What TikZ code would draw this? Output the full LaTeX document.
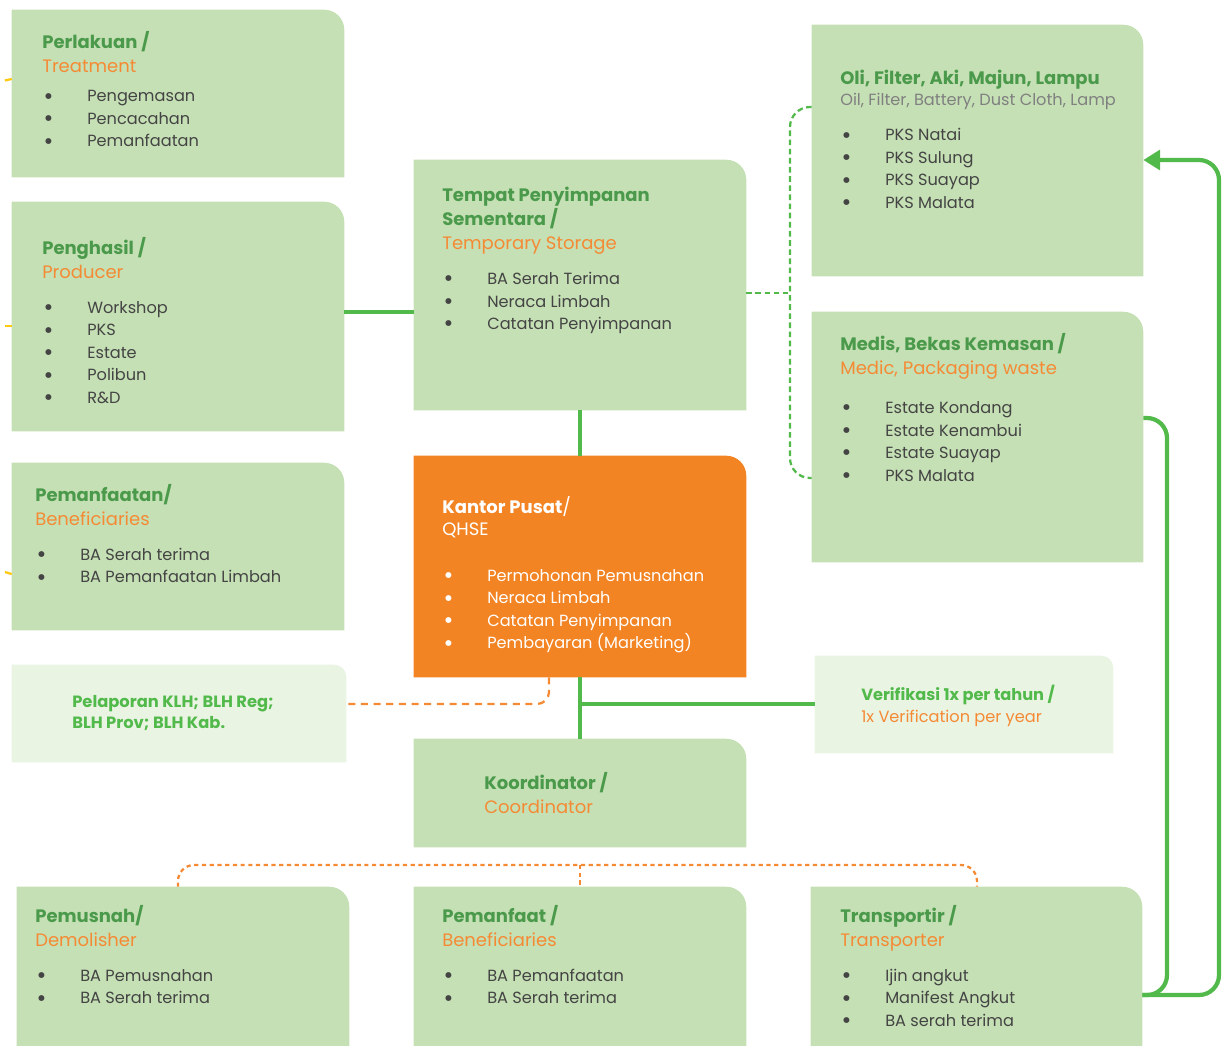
\documentclass[tikz,border=0pt]{standalone}
\usepackage{fontspec}
\setmainfont{Poppins}
\usepackage{xcolor}
\usetikzlibrary{positioning, fit, arrows.meta}

\definecolor{cardgreen}{HTML}{C5E0B4}
\definecolor{cardlight}{HTML}{E9F4E3}
\definecolor{hqorange}{HTML}{F28424}
\definecolor{titlegreen}{HTML}{4B9A4C}
\definecolor{linkgreen}{HTML}{52B94B}
\definecolor{textorange}{HTML}{F58A35}
\definecolor{bodygray}{HTML}{444444}
\definecolor{subgray}{HTML}{808080}
\definecolor{feedyellow}{HTML}{FFC910}

\tikzset{
    card/.style={inner sep=0pt, draw=none}, % empty frame, filled afterwards
    txt/.style={anchor=north west, inner sep=0pt, align=left, text=bodygray,
        font=\fontsize{11.5}{16}\selectfont}, % text block inside a card
    link/.style={draw=linkgreen, line width=3.5pt}, % solid green line
    loop/.style={draw=linkgreen, line width=3pt, rounded corners=0.5cm},
    feedgreen/.style={draw=linkgreen, line width=1.6pt, dash pattern=on 4pt off 2.5pt},
    feedorange/.style={draw=textorange, line width=1.6pt, dash pattern=on 5pt off 4pt},
    feeddot/.style={draw=textorange, line width=1.6pt, dash pattern=on 3pt off 2.5pt},
    feedyellow/.style={draw=feedyellow, line width=1.6pt, dash pattern=on 5pt off 4pt},
}

% heading, subtitle and bullet of a card
\newcommand\hfont{\fontsize{12.8}{16}\selectfont}
\newcommand\hd[1]{{\hfont\bfseries\color{titlegreen}#1}}
\newcommand\sub[1]{{\hfont\color{textorange}#1}}
\newcommand\pt{\makebox[1.125cm][l]{\hspace{1pt}\raisebox{-1.6pt}{\fontsize{17}{16}\selectfont\textbullet}}}

\begin{document}
\begin{tikzpicture}[x=0.025cm, y=-0.025cm]
\useasboundingbox (0,0) rectangle (1224,1046);

% card frames
\node[card, fit={(12,10) (344,177)}] (perlakuan) {};
\node[card, fit={(12,202) (344,431)}] (penghasil) {};
\node[card, fit={(12,463) (344,630)}] (pemanfaatan) {};
\node[card, fit={(12,665) (346,762)}] (pelaporan) {};
\node[card, fit={(414,160) (746,410)}] (tps) {};
\node[card, fit={(414,456) (746,677)}] (kantor) {};
\node[card, fit={(414,739) (746,847)}] (koordinator) {};
\node[card, fit={(812,25) (1143,276)}] (oli) {};
\node[card, fit={(812,312) (1143,562)}] (medis) {};
\node[card, fit={(815,656) (1113,753)}] (verifikasi) {};
\node[card, fit={(17,887) (349,1046)}] (pemusnah) {};
\node[card, fit={(414,887) (746,1046)}] (pemanfaat) {};
\node[card, fit={(811,887) (1142,1046)}] (transportir) {};

% fill: only the top right corner is round
\foreach \n/\c/\r in {perlakuan/cardgreen/0.5cm, penghasil/cardgreen/0.5cm,
    pemanfaatan/cardgreen/0.5cm, pelaporan/cardlight/0.3cm, tps/cardgreen/0.5cm,
    kantor/hqorange/0.5cm, koordinator/cardgreen/0.5cm, oli/cardgreen/0.5cm,
    medis/cardgreen/0.5cm, verifikasi/cardlight/0.3cm, pemusnah/cardgreen/0.5cm,
    pemanfaat/cardgreen/0.5cm, transportir/cardgreen/0.5cm}
  \fill[\c] (\n.south west) -- (\n.north west) -- ([xshift=-\r]\n.north east)
    arc[start angle=90, end angle=0, radius=\r] -- (\n.south east) -- cycle;

% card texts
\node[txt] (perlakuan-t) at (42,31) {\hd{Perlakuan /}\\[1pt]\sub{Treatment}\\[5pt]
    \pt Pengemasan\\ \pt Pencacahan\\ \pt Pemanfaatan};
\node[txt] (penghasil-t) at (42,237) {\hd{Penghasil /}\\[1pt]\sub{Producer}\\[9pt]
    \pt Workshop\\ \pt PKS\\ \pt Estate\\ \pt Polibun\\ \pt R\&D};
\node[txt] (pemanfaatan-t) at (35,484) {\hd{Pemanfaatan/}\\[1pt]\sub{Beneficiaries}\\[9pt]
    \pt BA Serah terima\\ \pt BA Pemanfaatan Limbah};
\node[txt, text=linkgreen, font=\fontsize{11.6}{15}\bfseries] (pelaporan-t) at (72,695)
    {Pelaporan KLH; BLH Reg;\\ BLH Prov; BLH Kab.};
\node[txt] (tps-t) at (442,187) {\hd{Tempat Penyimpanan}\\[1pt]\hd{Sementara /}\\[1pt]
    \sub{Temporary Storage}\\[9pt]
    \pt BA Serah Terima\\ \pt Neraca Limbah\\ \pt Catatan Penyimpanan};
\node[txt, text=white] (kantor-t) at (442,496) {{\hfont\textbf{Kantor Pusat}/}\\[0pt]
    {\hfont QHSE}\\[16.5pt]
    \pt Permohonan Pemusnahan\\ \pt Neraca Limbah\\ \pt Catatan Penyimpanan\\
    \pt Pembayaran (Marketing)};
\node[txt] (koordinator-t) at (484,772) {\hd{Koordinator /}\\[1pt]\sub{Coordinator}};
\node[txt] (oli-t) at (840,70) {\hd{Oli, Filter, Aki, Majun, Lampu}\\[-1pt]
    {\color{subgray}Oil, Filter, Battery, Dust Cloth, Lamp}\\[9pt]
    \pt PKS Natai\\ \pt PKS Sulung\\ \pt PKS Suayap\\ \pt PKS Malata};
\node[txt] (medis-t) at (840,333) {\hd{Medis, Bekas Kemasan /}\\[1pt]
    \sub{Medic, Packaging waste}\\[12pt]
    \pt Estate Kondang\\ \pt Estate Kenambui\\ \pt Estate Suayap\\ \pt PKS Malata};
\node[txt, font=\fontsize{11.5}{15.5}\selectfont] (verifikasi-t) at (861,685)
    {{\bfseries\color{linkgreen}Verifikasi 1x per tahun /}\\ {\color{textorange}1x Verification per year}};
\node[txt] (pemusnah-t) at (35,905) {\hd{Pemusnah/}\\[1pt]\sub{Demolisher}\\[9pt]
    \pt BA Pemusnahan\\ \pt BA Serah terima};
\node[txt] (pemanfaat-t) at (442,905) {\hd{Pemanfaat /}\\[1pt]\sub{Beneficiaries}\\[9pt]
    \pt BA Pemanfaatan\\ \pt BA Serah terima};
\node[txt] (transportir-t) at (840,905) {\hd{Transportir /}\\[1pt]\sub{Transporter}\\[9pt]
    \pt Ijin angkut\\ \pt Manifest Angkut\\ \pt BA serah terima};

% junctions
\coordinate (hub) at (kantor.south |- 0,704);
\coordinate (split) at (790,293);
\coordinate (fork) at (pemanfaat.north |- 0,865);

% solid green links
\draw[link] (penghasil.east |- 0,312) -- (tps.west |- 0,312);
\draw[link] (tps.south) -- (kantor.north);
\draw[link] (kantor.south) -- (koordinator.north);
\draw[link] (hub) -- (verifikasi.west |- hub);

% dashed feeds
\draw[feedorange, rounded corners=0.3cm] (kantor.south -| 549,0) -- (549,704)
    -- (pelaporan.east |- 0,704);
\draw[feedgreen] (tps.east |- split) -- (split);
\draw[feedgreen, rounded corners=0.5cm] (oli.west |- 0,107) -- (split |- 0,107)
    -- (split |- 0,478) -- (medis.west |- 0,478);
\draw[feeddot, rounded corners=0.4cm] (pemusnah.north -| 178,0) -- (178,865)
    -- (977,865) -- (transportir.north -| 977,0);
\draw[feeddot] (fork) -- (pemanfaat.north);
\draw[feedyellow] (perlakuan.west |- 0,79) -- (-30,88);
\draw[feedyellow] (penghasil.west |- 0,326) -- (-30,326);
\draw[feedyellow] (pemanfaatan.west |- 0,574) -- (-30,562);

% transport loop back to the top
\draw[loop] (medis.east |- 0,418) -- (1167,418) -- (1167,995) -- (transportir.east |- 0,995);
\draw[loop, -{Triangle[length=12pt, width=14pt]}] (transportir.east |- 0,995)
    -- (1219,995) -- (1219,160) -- (oli.east |- 0,160);
\end{tikzpicture}
\end{document}
